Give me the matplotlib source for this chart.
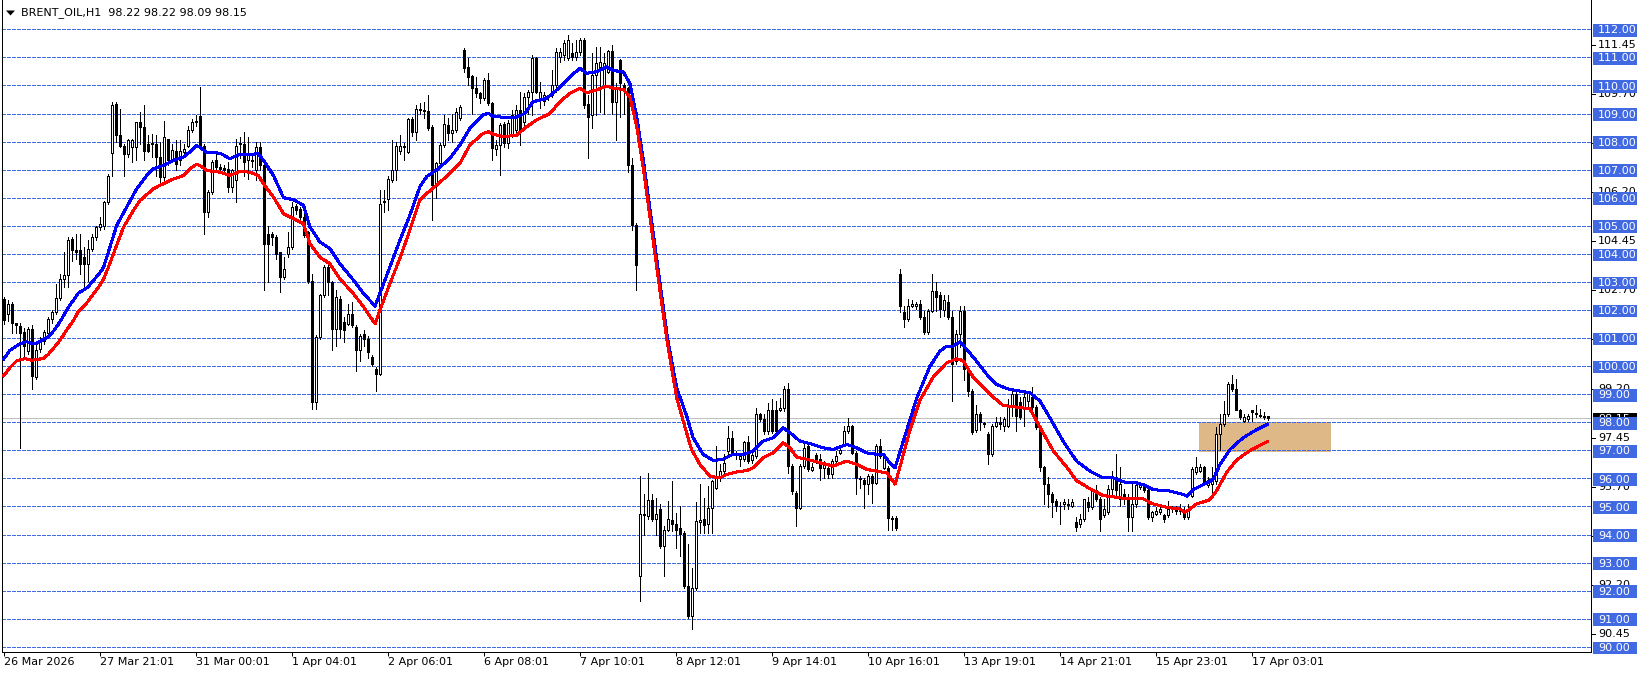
import matplotlib
matplotlib.use("Agg")
import matplotlib.pyplot as plt
from matplotlib.patches import Rectangle, Polygon
import numpy as np

plt.rcParams['font.family'] = ['DejaVu Sans']

# ---------------- data ----------------
symbol_title = "BRENT_OIL,H1  98.22 98.22 98.09 98.15"

opens = [
    102.38, 101.87, 102.23, 101.52, 101.43, 101.23, 100.54, 101.31, 99.62, 100.60,
    100.90, 101.19, 101.67, 101.94, 102.44, 103.10, 103.25, 104.52, 104.12, 104.12,
    103.88, 103.65, 104.18, 104.60, 104.95, 105.01, 105.84, 107.60, 109.35, 108.22,
    107.86, 107.57, 107.80, 107.80, 108.69, 108.52, 107.92, 107.90, 107.92, 107.45,
    106.73, 108.10, 107.39, 107.68, 107.33, 107.62, 107.86, 108.40, 108.69, 108.90,
    107.86, 105.49, 106.20, 107.33, 107.09, 107.05, 107.03, 106.38, 106.62, 107.90,
    107.92, 107.33, 107.30, 106.97, 107.80, 107.15, 104.71, 104.71, 104.60, 104.06,
    103.17, 104.00, 104.24, 105.72, 105.61, 105.31, 104.77, 103.05, 98.72, 101.03,
    102.52, 103.53, 102.99, 101.33, 102.40, 101.57, 101.51, 101.86, 101.39, 100.56,
    101.15, 100.97, 100.32, 99.90, 99.73, 105.84, 105.96, 106.62, 106.97, 107.68,
    107.85, 107.64, 108.79, 108.35, 109.12, 109.09, 109.09, 108.51, 106.45, 107.22,
    107.88, 108.59, 108.29, 108.41, 108.83, 111.26, 110.67, 110.33, 109.90, 109.74,
    109.54, 110.19, 109.36, 107.72, 107.88, 108.62, 107.94, 108.23, 108.41, 109.12,
    108.71, 109.60, 109.78, 110.96, 109.48, 109.46, 109.60, 109.66, 110.01, 111.02,
    111.08, 110.96, 111.14, 111.02, 111.20, 111.62, 109.34, 108.95, 110.37, 110.67,
    110.01, 110.49, 111.24, 109.42, 110.90, 110.00, 109.90, 107.16, 105.03, 92.52,
    94.72, 94.66, 95.22, 94.54, 94.90, 93.59, 94.18, 94.52, 94.36, 94.22,
    94.06, 92.16, 91.09, 92.10, 94.46, 94.54, 94.36, 94.95, 95.67, 96.02,
    96.26, 96.97, 97.45, 96.88, 96.68, 96.68, 97.30, 96.64, 96.80, 98.28,
    98.10, 97.69, 98.43, 98.43, 98.43, 98.52, 99.17, 96.44, 95.49, 94.95,
    96.44, 97.15, 96.29, 96.83, 96.68, 96.38, 96.38, 96.14, 96.62, 96.91,
    97.21, 97.69, 97.86, 96.91, 96.02, 95.96, 95.79, 96.08, 95.85, 97.15,
    96.38, 96.38, 94.60, 94.60, 103.29, 101.92, 101.68, 102.16, 102.16, 102.22,
    101.74, 101.21, 101.98, 102.69, 102.52, 102.00, 102.28, 101.74, 100.20, 101.15,
    101.98, 99.90, 99.13, 97.71, 98.30, 97.97, 97.59, 96.87, 97.88, 98.00,
    97.88, 97.88, 98.60, 99.01, 98.71, 98.54, 98.77, 98.89, 98.54, 97.82,
    96.40, 95.81, 95.45, 95.21, 95.03, 95.09, 95.09, 95.03, 94.44, 94.38,
    94.56, 95.15, 94.97, 95.57, 95.27, 94.68, 94.80, 95.63, 96.04, 95.27,
    95.45, 95.27, 94.62, 95.09, 95.69, 95.75, 95.57, 94.62, 94.74, 94.80,
    94.68, 94.68, 94.91, 94.97, 94.85, 94.85, 94.62, 95.39, 96.22, 96.28,
    96.40, 95.75, 95.81, 95.92, 97.59, 97.94, 98.30, 99.37, 99.19, 98.42,
    98.06, 98.12, 98.42, 98.33, 98.27, 98.22, 98.22,
]

highs = [
    102.45, 102.35, 102.28, 101.55, 101.55, 101.35, 101.40, 101.45, 100.90, 101.05,
    101.30, 101.75, 102.00, 102.93, 103.29, 104.06, 104.60, 104.60, 104.70, 104.71,
    104.24, 104.48, 104.70, 105.01, 105.30, 105.90, 106.85, 109.41, 109.41, 109.17,
    107.92, 108.10, 108.10, 108.69, 109.05, 109.29, 108.22, 108.28, 108.22, 107.98,
    108.75, 108.10, 107.90, 108.04, 108.04, 107.90, 108.57, 108.80, 108.93, 109.94,
    107.92, 106.26, 107.33, 107.57, 107.20, 107.15, 107.27, 107.03, 108.10, 108.16,
    108.34, 108.16, 107.50, 107.98, 107.98, 107.21, 105.01, 104.77, 104.66, 104.06,
    103.88, 104.77, 105.84, 105.78, 105.67, 105.67, 104.83, 103.29, 101.10, 102.58,
    103.59, 103.59, 103.05, 102.70, 102.50, 101.75, 102.22, 102.28, 101.45, 101.15,
    101.27, 101.09, 100.40, 99.96, 106.26, 106.26, 106.79, 108.04, 107.98, 108.22,
    107.94, 108.83, 108.89, 109.30, 109.36, 109.42, 109.66, 108.59, 107.28, 107.94,
    108.95, 108.83, 109.00, 109.18, 109.30, 111.32, 110.96, 110.37, 110.31, 109.78,
    110.25, 110.43, 109.42, 108.05, 108.65, 108.71, 108.77, 109.12, 109.30, 109.78,
    109.72, 109.84, 111.08, 111.02, 110.13, 109.78, 109.66, 110.55, 111.32, 111.32,
    111.62, 111.80, 111.50, 111.62, 111.68, 111.68, 109.66, 111.14, 111.38, 111.38,
    111.14, 111.26, 111.44, 110.07, 110.93, 110.10, 109.95, 107.40, 105.09, 96.08,
    95.43, 96.20, 95.43, 95.31, 95.10, 94.30, 95.19, 95.90, 94.78, 95.00,
    94.12, 93.65, 92.82, 95.15, 95.79, 95.31, 95.73, 95.96, 97.15, 96.50,
    96.86, 97.86, 97.69, 96.97, 96.91, 97.33, 97.51, 96.97, 98.52, 98.34,
    98.28, 98.70, 98.82, 98.76, 98.88, 99.29, 99.41, 96.50, 95.55, 96.50,
    97.21, 97.21, 96.56, 96.91, 96.86, 96.62, 96.56, 96.68, 96.97, 97.15,
    97.86, 98.16, 97.92, 96.97, 96.08, 96.02, 96.14, 96.14, 97.21, 97.39,
    96.86, 96.44, 94.66, 94.66, 103.47, 102.16, 102.40, 102.34, 102.28, 102.34,
    101.98, 102.04, 103.29, 102.99, 102.63, 102.52, 102.52, 101.98, 101.27, 102.16,
    102.16, 99.90, 99.19, 98.60, 98.36, 98.00, 97.65, 97.94, 98.18, 98.18,
    98.18, 98.83, 99.19, 99.13, 98.89, 99.07, 99.13, 99.25, 98.60, 97.82,
    96.46, 96.04, 95.51, 95.27, 95.15, 95.27, 95.27, 95.27, 94.62, 94.74,
    95.27, 95.33, 95.63, 95.75, 95.33, 95.27, 95.75, 96.28, 96.87, 96.40,
    95.63, 95.45, 95.81, 95.81, 95.81, 95.81, 95.63, 94.85, 94.97, 94.97,
    94.74, 95.21, 95.03, 95.03, 95.09, 94.97, 95.09, 96.40, 96.76, 96.52,
    96.46, 96.04, 96.40, 97.82, 98.30, 98.77, 99.43, 99.67, 99.55, 98.48,
    98.30, 98.30, 98.42, 98.60, 98.48, 98.36, 98.22,
]

lows = [
    101.50, 101.60, 101.19, 101.19, 97.07, 100.30, 100.45, 99.18, 99.55, 100.50,
    100.80, 101.15, 101.55, 101.86, 102.34, 102.81, 102.81, 103.76, 103.80, 103.29,
    102.70, 103.05, 104.10, 104.50, 104.85, 104.90, 105.78, 106.79, 107.98, 107.80,
    106.79, 107.45, 107.27, 107.33, 107.92, 107.33, 107.62, 107.45, 106.79, 106.56,
    106.62, 107.15, 107.30, 106.97, 107.15, 107.55, 107.80, 108.35, 108.57, 107.80,
    104.71, 105.31, 106.14, 106.97, 106.95, 106.90, 106.20, 106.20, 105.84, 107.40,
    106.79, 106.67, 107.10, 106.62, 106.97, 102.70, 102.99, 104.30, 103.82, 102.64,
    103.11, 103.90, 104.18, 105.43, 105.25, 104.60, 102.95, 98.48, 98.48, 100.97,
    102.45, 102.52, 100.56, 100.70, 101.00, 100.86, 101.45, 101.39, 99.84, 100.20,
    100.70, 100.30, 100.00, 99.13, 99.67, 105.49, 105.55, 106.55, 106.62, 107.57,
    107.34, 107.58, 108.20, 108.05, 109.00, 108.83, 108.41, 105.20, 105.98, 107.05,
    107.82, 108.05, 107.99, 108.35, 108.77, 110.49, 110.01, 109.00, 109.60, 109.36,
    109.48, 109.30, 107.34, 107.52, 106.81, 107.82, 107.76, 108.17, 108.29, 107.88,
    108.59, 109.00, 108.95, 109.72, 109.18, 109.30, 109.48, 109.60, 109.78, 110.85,
    110.90, 110.90, 110.90, 110.90, 111.08, 109.18, 107.40, 108.47, 108.95, 109.06,
    109.00, 110.43, 109.00, 108.05, 108.89, 109.00, 106.90, 104.85, 102.71, 91.65,
    94.00, 94.54, 94.48, 94.00, 93.53, 92.52, 94.12, 94.12, 93.53, 93.23,
    92.10, 91.04, 90.62, 92.04, 94.06, 94.06, 94.06, 94.06, 95.61, 95.90,
    96.20, 96.86, 96.86, 96.68, 96.44, 96.62, 96.56, 96.56, 96.74, 98.04,
    97.57, 97.57, 97.63, 97.57, 98.40, 98.40, 96.20, 95.43, 94.30, 94.90,
    96.38, 96.26, 96.26, 96.56, 95.96, 96.02, 96.02, 96.02, 96.56, 96.86,
    97.15, 97.63, 96.86, 95.43, 95.67, 94.95, 95.43, 95.13, 95.79, 96.74,
    96.32, 94.18, 94.18, 94.18, 101.92, 101.39, 101.62, 102.10, 102.04, 101.68,
    101.15, 101.15, 101.92, 101.98, 101.74, 101.80, 101.68, 98.77, 100.08, 100.67,
    99.49, 98.95, 97.59, 97.65, 97.71, 97.82, 96.52, 96.81, 97.82, 97.76,
    97.70, 97.82, 98.24, 97.70, 98.12, 97.88, 98.48, 98.42, 97.76, 96.28,
    95.09, 94.97, 94.62, 94.85, 94.38, 94.91, 94.91, 94.97, 94.14, 94.26,
    94.50, 94.85, 94.91, 95.21, 94.14, 94.62, 94.74, 95.45, 95.33, 95.03,
    95.09, 94.14, 94.14, 94.97, 95.63, 95.51, 94.56, 94.50, 94.68, 94.74,
    94.44, 94.62, 94.80, 94.74, 94.74, 94.56, 94.56, 95.33, 96.16, 96.22,
    95.75, 95.69, 95.39, 95.81, 97.00, 97.88, 98.24, 99.13, 98.42, 98.12,
    98.00, 98.06, 98.06, 98.18, 98.18, 98.12, 98.09,
]

closes = [
    101.65, 102.20, 101.52, 101.47, 101.19, 100.72, 101.31, 99.65, 100.57, 100.90,
    101.22, 101.67, 101.94, 102.44, 103.10, 103.25, 104.48, 104.12, 104.06, 103.65,
    103.65, 104.18, 104.60, 104.95, 105.05, 105.84, 106.79, 109.29, 108.22, 107.86,
    107.57, 108.04, 108.04, 108.69, 108.52, 107.68, 107.68, 107.95, 107.45, 106.73,
    108.16, 107.33, 107.70, 107.21, 107.68, 107.74, 108.40, 108.69, 108.72, 107.86,
    105.49, 106.20, 107.27, 107.09, 107.03, 107.00, 106.38, 106.97, 107.86, 107.95,
    107.27, 107.57, 107.33, 107.80, 107.15, 104.36, 104.36, 104.60, 104.00, 103.17,
    103.47, 104.24, 105.67, 105.55, 105.31, 104.66, 103.05, 98.72, 101.03, 102.52,
    103.53, 102.99, 101.33, 102.46, 101.33, 101.27, 101.86, 101.45, 100.56, 101.09,
    100.97, 100.50, 100.08, 99.73, 105.78, 105.90, 106.67, 106.97, 107.83, 107.83,
    107.80, 108.79, 108.35, 109.15, 109.15, 109.12, 108.47, 106.45, 107.22, 107.88,
    108.61, 108.29, 108.41, 109.06, 109.24, 110.61, 110.31, 109.90, 109.74, 109.54,
    110.19, 109.36, 107.76, 107.88, 108.59, 107.94, 108.65, 108.95, 109.12, 108.41,
    109.60, 109.78, 110.96, 109.78, 109.78, 109.66, 109.62, 110.01, 111.20, 111.20,
    111.50, 111.62, 111.02, 111.20, 111.62, 109.30, 108.89, 110.37, 110.79, 110.85,
    110.81, 111.24, 109.42, 109.95, 110.07, 109.90, 107.16, 105.03, 103.60, 94.72,
    94.70, 95.22, 94.54, 94.72, 93.59, 94.18, 94.54, 94.36, 94.18, 94.03,
    92.16, 91.09, 92.10, 94.48, 94.52, 94.33, 94.95, 95.90, 96.02, 96.26,
    96.56, 97.45, 96.91, 96.86, 96.80, 97.30, 96.62, 96.83, 98.28, 98.10,
    97.69, 98.43, 97.69, 97.69, 98.52, 99.17, 96.44, 95.55, 94.95, 96.44,
    97.09, 96.32, 96.41, 96.68, 96.38, 96.56, 96.14, 96.62, 96.80, 97.03,
    97.69, 97.86, 96.91, 96.02, 95.98, 95.79, 96.08, 95.85, 97.15, 96.80,
    96.80, 94.60, 94.55, 94.24, 102.16, 101.68, 102.16, 102.22, 102.20, 101.74,
    101.21, 101.98, 102.69, 102.46, 102.04, 102.34, 101.74, 100.08, 101.15, 101.98,
    99.90, 99.13, 97.65, 98.30, 98.00, 97.94, 96.87, 97.88, 98.00, 97.94,
    98.12, 98.60, 99.01, 98.21, 98.18, 98.89, 99.07, 98.54, 97.82, 96.40,
    95.81, 95.45, 95.15, 95.03, 95.00, 95.15, 95.07, 95.15, 94.26, 94.56,
    95.27, 94.97, 95.57, 95.27, 94.56, 94.91, 95.63, 96.04, 95.57, 95.81,
    95.27, 94.62, 95.09, 95.75, 95.75, 95.57, 94.62, 94.80, 94.85, 94.91,
    94.56, 94.91, 94.97, 94.85, 94.91, 94.62, 94.85, 96.34, 96.40, 96.40,
    95.81, 95.92, 95.92, 97.59, 97.94, 98.30, 99.37, 99.19, 98.42, 98.18,
    98.18, 98.24, 98.36, 98.30, 98.24, 98.20, 98.15,
]

# moving-average lines (bar position, price)
ma_upper_bars = [
    0, 1.6, 4.1, 5.8, 7, 8.3, 9.5, 11.2, 12.5, 13.7,
    15, 16.2, 17.5, 18.7, 20, 21.2, 22.5, 23.7, 25, 26.6,
    28.3, 30.8, 33.3, 35.8, 37.5, 40, 42.5, 45, 46.6, 48.3,
    49.1, 50.8, 54.1, 56.6, 59.1, 61.6, 63.7, 65, 67.5, 70,
    72.5, 75, 76.6, 79.1, 81.6, 84.1, 87.5, 90, 92.9, 94.1,
    96.6, 99.1, 101.6, 104.1, 105.8, 108.3, 111.6, 114.1, 116.6, 119.9,
    121.2, 122.4, 124.9, 128.3, 130.4, 132.4, 135.8, 138.3, 141.6, 144.1,
    145.8, 148.3, 150.8, 152.4, 154.9, 156.6, 158.3, 160, 162, 164,
    166, 168.3, 170.8, 172.4, 174.9, 177.4, 179.9, 182.4, 184.9, 187.4,
    189.9, 192.4, 194.9, 196.6, 199.1, 202.4, 204.9, 207.4, 210.8, 213.3,
    215.8, 218.3, 220, 221.6, 222.9, 225, 228.3, 231.6, 234.1, 235.8,
    237.4, 239.1, 240.8, 243.3, 245.8, 248.3, 250.8, 253.3, 256.6, 259.1,
    261.6, 264.9, 268.3, 271.6, 274.9, 277.4, 280.8, 283.3, 284.9, 287.4,
    291.6, 294.9, 295.8, 297.4, 299.9, 302.4, 304.1, 306.6, 309.9, 313.3,
    316,
]
ma_upper_vals = [
    100.25, 100.56, 100.80, 100.87, 100.80, 100.82, 100.92, 101.04, 101.25, 101.49,
    101.79, 102.09, 102.35, 102.60, 102.71, 102.83, 103.06, 103.25, 103.51, 104.24,
    105.01, 105.67, 106.32, 106.79, 107.03, 107.15, 107.33, 107.45, 107.63, 107.86,
    107.80, 107.61, 107.59, 107.39, 107.55, 107.54, 107.57, 107.33, 106.79, 106.00,
    105.93, 105.73, 104.96, 104.42, 104.19, 103.65, 103.06, 102.59, 102.14, 102.59,
    103.53, 104.48, 105.38, 106.39, 106.75, 106.99, 107.40, 107.88, 108.47, 108.95,
    109.01, 108.89, 108.87, 108.87, 109.01, 109.42, 109.54, 109.84, 110.31, 110.61,
    110.43, 110.49, 110.67, 110.53, 110.49, 110.07, 108.90, 107.30, 105.20, 103.10,
    101.00, 99.23, 98.22, 97.45, 96.86, 96.64, 96.68, 96.86, 96.86, 96.97,
    97.33, 97.45, 97.81, 97.63, 97.33, 97.21, 97.09, 97.03, 97.21, 97.09,
    96.91, 96.86, 96.85, 96.55, 96.38, 97.35, 98.86, 99.99, 100.53, 100.71,
    100.71, 100.87, 100.60, 100.17, 99.71, 99.35, 99.20, 99.13, 99.05, 98.76,
    98.16, 97.33, 96.61, 96.26, 96.02, 96.02, 95.84, 95.84, 95.78, 95.60,
    95.55, 95.43, 95.37, 95.60, 95.78, 95.96, 96.49, 97.03, 97.45, 97.74,
    97.93,
]
ma_lower_bars = [
    0, 1.6, 3.3, 5.4, 7, 8.3, 10, 11.2, 12.5, 13.7,
    15, 16.2, 17.5, 18.7, 20, 21.2, 22.5, 23.7, 25, 26.2,
    27.5, 30, 32.5, 34.1, 37.5, 39.1, 42.5, 45, 46.6, 48.3,
    49.1, 50.8, 54.1, 56.6, 59.1, 61.6, 63.7, 65, 67.5, 70,
    72.5, 75, 76.6, 79.1, 81.6, 84.1, 87.5, 90, 92.9, 94.1,
    96.6, 99.1, 101.6, 104.1, 105.8, 108.3, 111.6, 114.1, 116.6, 119.9,
    121.2, 122.4, 124.9, 128.3, 130.8, 133.3, 136.6, 139.1, 141.6, 144.1,
    145.8, 148.3, 150.8, 152.4, 154.9, 156.6, 158.3, 160, 162, 164,
    166, 168.3, 170.4, 172, 174.1, 176.6, 179.1, 180.8, 183.3, 185.8,
    187.4, 189.9, 192.4, 194.9, 196.6, 198.3, 200.8, 204.1, 207.4, 210.8,
    213.3, 215.8, 218.3, 220.8, 222.9, 224.1, 226.6, 229.1, 232.4, 235.8,
    238.3, 239.9, 242.4, 244.9, 247.4, 249.9, 253.3, 256.6, 259.1, 262.4,
    265.8, 268.3, 271.6, 274.9, 278.3, 280.8, 284.9, 287.4, 290.8, 294.1,
    295.4, 296.6, 298.3, 301.6, 303.3, 305.8, 308.3, 311.6, 316,
]
ma_lower_vals = [
    99.65, 99.95, 100.19, 100.27, 100.21, 100.23, 100.28, 100.42, 100.64, 100.84,
    101.11, 101.37, 101.63, 101.94, 102.11, 102.32, 102.58, 102.80, 103.10, 103.51,
    104.00, 104.95, 105.55, 105.90, 106.32, 106.44, 106.67, 106.79, 107.03, 107.19,
    107.15, 106.97, 106.91, 106.79, 106.94, 106.91, 106.79, 106.50, 106.02, 105.43,
    105.25, 105.07, 104.36, 103.88, 103.65, 103.11, 102.58, 102.11, 101.51, 101.99,
    102.94, 103.84, 104.85, 105.92, 106.15, 106.45, 106.87, 107.22, 107.88, 108.29,
    108.35, 108.27, 108.17, 108.23, 108.53, 108.77, 109.00, 109.42, 109.72, 109.90,
    109.74, 109.84, 109.98, 109.90, 109.86, 109.60, 108.53, 107.00, 104.90, 102.80,
    100.80, 98.87, 97.81, 97.03, 96.50, 96.08, 96.02, 96.14, 96.23, 96.28,
    96.38, 96.74, 96.91, 97.27, 97.09, 96.76, 96.68, 96.56, 96.44, 96.62,
    96.50, 96.32, 96.26, 96.20, 95.80, 96.40, 97.71, 98.78, 99.61, 100.12,
    100.26, 100.20, 99.61, 99.25, 98.90, 98.60, 98.54, 98.48, 97.83, 96.99,
    96.40, 95.92, 95.63, 95.39, 95.33, 95.27, 95.27, 95.09, 94.97, 94.91,
    94.80, 94.91, 95.09, 95.24, 95.57, 96.22, 96.66, 96.99, 97.32,
]

tick_bars = [0, 24, 48, 72, 96, 120, 144, 168, 192, 216, 240, 264, 288, 312]
tick_labels = ["26 Mar 2026", "27 Mar 21:01", "31 Mar 00:01", "1 Apr 04:01",
               "2 Apr 06:01", "6 Apr 08:01", "7 Apr 10:01", "8 Apr 12:01",
               "9 Apr 14:01", "10 Apr 16:01", "13 Apr 19:01", "14 Apr 21:01",
               "15 Apr 23:01", "17 Apr 03:01"]

level_prices = list(range(90, 113))               # blue horizontal lines
scale_prices = [111.45, 109.70, 107.95, 106.20, 104.45, 102.70, 100.95,
                99.20, 97.45, 95.70, 93.95, 92.20, 90.45]
current_price = 98.15
zone_start_bar, zone_end_bar = 298.9, 331.9
zone_low, zone_high = 96.95, 98.0

# ---------------- layout ----------------
W, H, DPI = 1641, 676, 100
AX_L, AX_R, AX_T, AX_B = 2, 1591, 0, 652
PX_PER_BAR, BAR0_PX = 4.0, 3.5
Y_REF_PX, Y_REF_P, PX_PER_UNIT = 29.3, 112.0, 28.07

LINE_BLUE = '#4169E1'

fig = plt.figure(figsize=(W / DPI, H / DPI), dpi=DPI, facecolor='white')
ax = fig.add_axes([AX_L / W, 1 - AX_B / H, (AX_R - AX_L) / W, (AX_B - AX_T) / H])
ax.set_facecolor('white')

ax.set_xlim((AX_L - BAR0_PX) / PX_PER_BAR, (AX_R - BAR0_PX) / PX_PER_BAR)
ax.set_ylim(Y_REF_P - (AX_B - Y_REF_PX) / PX_PER_UNIT,
            Y_REF_P + (Y_REF_PX - AX_T) / PX_PER_UNIT)

px = 0.72  # one pixel in points

# zone rectangle
ax.add_patch(Rectangle((zone_start_bar, zone_low), zone_end_bar - zone_start_bar,
                       zone_high - zone_low, facecolor='#DEB887', edgecolor='none',
                       zorder=1.0))

# horizontal dashed levels
for p in level_prices:
    ax.axhline(p, color=LINE_BLUE, lw=px, linestyle=(0, (3, 2)), zorder=1.5,
               antialiased=False)

# current price line
ax.axhline(current_price, color='#C0C0C0', lw=px, zorder=1.6, antialiased=False)

# candles
o = np.array(opens); h = np.array(highs); l = np.array(lows); c = np.array(closes)
idx = np.arange(len(o))
up = c >= o
ax.vlines(idx, l, h, colors='black', lw=px, zorder=3, antialiased=False)
lo = np.minimum(o, c)
hgt = np.abs(c - o)
ax.bar(idx[up], hgt[up], bottom=lo[up], width=0.5, color='white',
       edgecolor='black', linewidth=px, zorder=3.1, antialiased=False)
ax.bar(idx[~up], hgt[~up], bottom=lo[~up], width=0.5, color='black',
       edgecolor='black', linewidth=px, zorder=3.1, antialiased=False)

# moving averages
ax.plot(ma_upper_bars, ma_upper_vals, color='#0000FF', lw=2 * px, zorder=4,
        solid_joinstyle='round', antialiased=False)
ax.plot(ma_lower_bars, ma_lower_vals, color='#FF0000', lw=2 * px, zorder=4,
        solid_joinstyle='round', antialiased=False)

# spines
for s in ['left', 'bottom', 'right']:
    ax.spines[s].set_color('black')
    ax.spines[s].set_linewidth(px)
ax.spines['top'].set_visible(False)

# x ticks
ax.set_xticks(tick_bars)
ax.set_xticklabels(tick_labels, fontsize=8, ha='left')
ax.tick_params(axis='x', length=4 * px, width=px, pad=1, colors='black',
               direction='out')
ax.set_yticks([])

# right price scale
tr = ax.get_yaxis_transform()
axw = AX_R - AX_L
def axx(p_x):
    return (p_x - AX_L) / axw

for p in scale_prices:
    ax.plot([1.0, axx(1595)], [p, p], transform=tr, color='black', lw=px,
            clip_on=False, zorder=5)
    ax.text(axx(1598), p, f"{p:.2f}", transform=tr, fontsize=8, color='black',
            ha='left', va='center', clip_on=False, zorder=5)

box_h = 0.45
ax.add_patch(Rectangle((axx(1592.5), current_price - 0.26), axx(1637) - axx(1592.5),
                       box_h, transform=tr, facecolor='black', edgecolor='none',
                       clip_on=False, zorder=6))
ax.text(axx(1598), current_price - 0.04, f"{current_price:.2f}", transform=tr,
        fontsize=8, color='white', ha='left', va='center', clip_on=False, zorder=6.5)

for p in level_prices:
    ax.add_patch(Rectangle((axx(1592.5), p - 0.26), axx(1637) - axx(1592.5), box_h,
                           transform=tr, facecolor=LINE_BLUE, edgecolor='none',
                           clip_on=False, zorder=7))
    ax.text(axx(1598), p - 0.04, f"{p:.2f}", transform=tr, fontsize=8,
            color='white', ha='left', va='center', clip_on=False, zorder=8)

# title with triangle
tri = Polygon([(6 / W, 1 - 10.5 / H), (15 / W, 1 - 10.5 / H), (10.5 / W, 1 - 15.5 / H)],
              closed=True, transform=fig.transFigure, facecolor='black',
              edgecolor='none')
fig.patches.append(tri)
fig.text(21 / W, 1 - 13 / H, symbol_title, fontsize=8, color='black',
         ha='left', va='center')

fig.savefig('out.png', dpi=DPI, facecolor='white')
